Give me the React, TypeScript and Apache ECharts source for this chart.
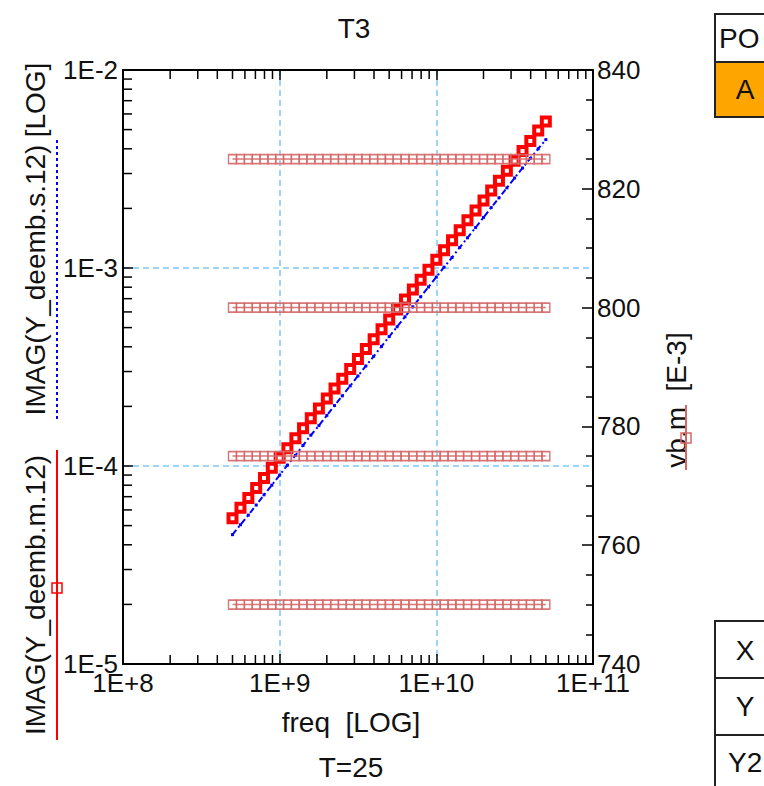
import React, { useEffect, useRef } from "react";
import * as echarts from "echarts";

const freq = [
  5.0e8, 5.62e8, 6.31e8, 7.08e8, 7.94e8, 8.91e8,
  1.0e9, 1.12e9, 1.26e9, 1.41e9, 1.58e9, 1.78e9, 2.0e9, 2.24e9, 2.51e9, 2.82e9,
  3.16e9, 3.55e9, 3.98e9, 4.47e9, 5.0e9, 5.62e9, 6.31e9, 7.08e9, 7.94e9, 8.91e9,
  1.0e10, 1.12e10, 1.26e10, 1.41e10, 1.58e10, 1.78e10, 2.0e10, 2.24e10, 2.51e10, 2.82e10,
  3.16e10, 3.55e10, 3.98e10, 4.47e10, 5.0e10,
];

const imagM12 = [
  5.45e-5, 6.15e-5, 6.9e-5, 7.75e-5, 8.7e-5, 9.8e-5,
  1.1e-4, 1.23e-4, 1.38e-4, 1.55e-4, 1.74e-4, 1.95e-4, 2.19e-4, 2.46e-4, 2.76e-4, 3.09e-4,
  3.47e-4, 3.9e-4, 4.37e-4, 4.91e-4, 5.5e-4, 6.17e-4, 6.93e-4, 7.78e-4, 8.73e-4, 9.8e-4,
  1.1e-3, 1.23e-3, 1.38e-3, 1.55e-3, 1.74e-3, 1.95e-3, 2.19e-3, 2.46e-3, 2.76e-3, 3.1e-3,
  3.48e-3, 3.9e-3, 4.38e-3, 4.95e-3, 5.5e-3,
];

const imagS12 = [
  4.5e-5, 5.05e-5, 5.65e-5, 6.35e-5, 7.15e-5, 8.0e-5,
  9.0e-5, 1.01e-4, 1.13e-4, 1.27e-4, 1.43e-4, 1.6e-4, 1.8e-4, 2.02e-4, 2.26e-4, 2.54e-4,
  2.85e-4, 3.2e-4, 3.58e-4, 4.02e-4, 4.5e-4, 5.05e-4, 5.67e-4, 6.37e-4, 7.15e-4, 8.02e-4,
  9.0e-4, 1.01e-3, 1.13e-3, 1.27e-3, 1.42e-3, 1.6e-3, 1.8e-3, 2.02e-3, 2.26e-3, 2.54e-3,
  2.85e-3, 3.2e-3, 3.58e-3, 4.0e-3, 4.45e-3,
];

// vb.m [E-3] levels
const vbLevels = [825, 800, 775, 750];

const xMinorTicks = [
  2e8, 3e8, 4e8, 5e8, 6e8, 7e8, 8e8, 9e8,
  2e9, 3e9, 4e9, 5e9, 6e9, 7e9, 8e9, 9e9,
  2e10, 3e10, 4e10, 5e10, 6e10, 7e10, 8e10, 9e10,
];
const yMinorTicks = [
  2e-5, 3e-5, 4e-5, 5e-5, 6e-5, 7e-5, 8e-5, 9e-5,
  2e-4, 3e-4, 4e-4, 5e-4, 6e-4, 7e-4, 8e-4, 9e-4,
  2e-3, 3e-3, 4e-3, 5e-3, 6e-3, 7e-3, 8e-3, 9e-3,
];

const FONT = '"Liberation Sans", Arial, sans-serif';
const FS = 26;
const GFS = 28;
const RED = "#ff0000";
const BLUE = "#0000ff";
const HRED = "#d46868";
const GRID = "#7cc8f4";
const TXT = "#111";

const expFmt = (v: number) => {
  const e = Math.round(Math.log10(v));
  return "1E" + (e >= 0 ? "+" : "") + e;
};

const txt = (text: string, x: number, y: number, opts: any = {}) => ({
  type: "text",
  x,
  y,
  rotation: opts.rotation || 0,
  silent: true,
  style: {
    text,
    fill: opts.fill || TXT,
    font: `${opts.size || GFS}px ${FONT}`,
    align: opts.align || "center",
    verticalAlign: "middle",
    textAlign: opts.align || "center",
    textVerticalAlign: "middle",
  },
});

export default function App() {
  const ref = useRef<HTMLDivElement>(null);
  useEffect(() => {
    const chart = echarts.init(ref.current!, null, { renderer: "svg" });

    const hSeries = vbLevels.map((lv) => ({
      type: "line",
      xAxisIndex: 0,
      yAxisIndex: 1,
      data: freq.map((f) => [f, lv]),
      symbol: "rect",
      symbolSize: [8, 9],
      showAllSymbol: true,
      itemStyle: { color: "rgba(0,0,0,0)", borderColor: HRED, borderWidth: 1.5, opacity: 0.9 },
      lineStyle: { color: HRED, width: 1.5, opacity: 0.9 },
      z: 5,
      silent: true,
    }));

    const option: any = {
      animation: false,
      backgroundColor: "#fff",
      grid: { left: 123, right: 171, top: 70, bottom: 122, show: false },
      xAxis: [
        {
          type: "log",
          logBase: 10,
          min: 1e8,
          max: 1e11,
          axisLine: { show: true, lineStyle: { color: "#000", width: 2 } },
          axisTick: { show: true, inside: true, length: 10, lineStyle: { color: "#000", width: 1.5 } },
          axisLabel: { formatter: expFmt, color: TXT, fontSize: FS, fontFamily: FONT, margin: 6 },
          splitLine: { show: true, lineStyle: { color: GRID, type: [6, 4], width: 1.5 } },
        },
        {
          type: "log",
          logBase: 10,
          min: 1e8,
          max: 1e11,
          position: "top",
          axisLine: { show: true, lineStyle: { color: "#000", width: 2 } },
          axisTick: { show: true, inside: true, length: 10, lineStyle: { color: "#000", width: 1.5 } },
          axisLabel: { show: false },
          splitLine: { show: false },
        },
      ],
      yAxis: [
        {
          type: "log",
          logBase: 10,
          min: 1e-5,
          max: 1e-2,
          axisLine: { show: true, lineStyle: { color: "#000", width: 2 } },
          axisTick: { show: true, inside: true, length: 10, lineStyle: { color: "#000", width: 1.5 } },
          axisLabel: {
            formatter: expFmt,
            color: TXT,
            fontSize: FS,
            fontFamily: FONT,
            margin: 5,
            padding: [0, 0, 6, 0],
          },
          splitLine: { show: true, lineStyle: { color: GRID, type: [6, 4], width: 1.5 } },
        },
        {
          type: "value",
          min: 740,
          max: 840,
          interval: 20,
          position: "right",
          axisLine: { show: true, lineStyle: { color: "#000", width: 2 } },
          axisTick: { show: true, inside: true, length: 11, lineStyle: { color: "#000", width: 1.5 } },
          minorTick: { show: true, splitNumber: 4, length: 7, lineStyle: { color: "#000", width: 1.5 } },
          axisLabel: {
            color: TXT,
            fontSize: FS,
            fontFamily: FONT,
            margin: 4,
            padding: [0, 0, 6, 0],
          },
          splitLine: { show: false },
        },
      ],
      series: [
        {
          type: "custom",
          xAxisIndex: 0,
          yAxisIndex: 0,
          silent: true,
          clip: false,
          z: 10,
          data: xMinorTicks.map((v) => [v, 1e-4]),
          renderItem: (params: any, api: any) => {
            const v = api.value(0);
            const b = api.coord([v, 1e-5]);
            const t = api.coord([v, 1e-2]);
            const st = { stroke: "#000", lineWidth: 1.5 };
            return {
              type: "group",
              children: [
                { type: "line", shape: { x1: b[0], y1: b[1], x2: b[0], y2: b[1] - 9 }, style: st },
                { type: "line", shape: { x1: t[0], y1: t[1], x2: t[0], y2: t[1] + 9 }, style: st },
              ],
            };
          },
        },
        {
          type: "custom",
          xAxisIndex: 0,
          yAxisIndex: 0,
          silent: true,
          clip: false,
          z: 10,
          data: yMinorTicks.map((v) => [1e9, v]),
          renderItem: (params: any, api: any) => {
            const v = api.value(1);
            const l = api.coord([1e8, v]);
            return {
              type: "line",
              shape: { x1: l[0], y1: l[1], x2: l[0] + 9, y2: l[1] },
              style: { stroke: "#000", lineWidth: 1.5 },
            };
          },
        },
        {
          name: "IMAG(Y_deemb.s.12)",
          type: "line",
          xAxisIndex: 0,
          yAxisIndex: 0,
          data: freq.map((f, i) => [f, imagS12[i]]),
          symbol: "rect",
          symbolSize: 3,
          showAllSymbol: true,
          itemStyle: { color: BLUE },
          lineStyle: { color: BLUE, width: 2, type: [6, 3, 2, 3] },
          z: 3,
        },
        {
          name: "IMAG(Y_deemb.m.12)",
          type: "line",
          xAxisIndex: 0,
          yAxisIndex: 0,
          data: freq.map((f, i) => [f, imagM12[i]]),
          symbol: "rect",
          symbolSize: 8,
          showAllSymbol: true,
          itemStyle: { color: "#fff", borderColor: RED, borderWidth: 4 },
          lineStyle: { color: RED, width: 2 },
          z: 4,
        },
        ...hSeries,
      ],
      graphic: [
        txt("T3", 354, 28),
        txt("freq  [LOG]", 351, 722),
        txt("T=25", 351, 767),
        // left axis names (rotated)
        txt("IMAG(Y_deemb.m.12)", 35, 595, { rotation: Math.PI / 2 }),
        txt("IMAG(Y_deemb.s.12)", 35, 280, { rotation: Math.PI / 2 }),
        txt("[LOG]", 35, 100, { rotation: Math.PI / 2 }),
        {
          type: "line",
          silent: true,
          shape: { x1: 57, y1: 450, x2: 57, y2: 740 },
          style: { stroke: RED, lineWidth: 2 },
        },
        {
          type: "rect",
          silent: true,
          shape: { x: 52, y: 583, width: 10, height: 10 },
          style: { fill: "none", stroke: RED, lineWidth: 1.5 },
        },
        {
          type: "line",
          silent: true,
          shape: { x1: 57, y1: 140, x2: 57, y2: 420 },
          style: { stroke: BLUE, lineWidth: 2, lineDash: [3, 3] },
        },
        // right axis name
        txt("vb.m  [E-3]", 676, 400, { rotation: Math.PI / 2 }),
        {
          type: "line",
          silent: true,
          shape: { x1: 686, y1: 405, x2: 686, y2: 470 },
          style: { stroke: HRED, lineWidth: 2 },
        },
        {
          type: "rect",
          silent: true,
          shape: { x: 681, y: 433, width: 10, height: 10 },
          style: { fill: "none", stroke: HRED, lineWidth: 1.5 },
        },
        // right-side table fragments
        {
          type: "rect",
          silent: true,
          shape: { x: 715, y: 14, width: 60, height: 48 },
          style: { fill: "#fff", stroke: "#222", lineWidth: 2 },
        },
        {
          type: "rect",
          silent: true,
          shape: { x: 715, y: 62, width: 60, height: 55 },
          style: { fill: "#ffa500", stroke: "#222", lineWidth: 2 },
        },
        txt("PO", 719, 38, { align: "left" }),
        txt("A", 745, 89),
        {
          type: "rect",
          silent: true,
          shape: { x: 715, y: 621, width: 60, height: 57 },
          style: { fill: "#fff", stroke: "#222", lineWidth: 2 },
        },
        {
          type: "rect",
          silent: true,
          shape: { x: 715, y: 678, width: 60, height: 57 },
          style: { fill: "#fff", stroke: "#222", lineWidth: 2 },
        },
        {
          type: "rect",
          silent: true,
          shape: { x: 715, y: 735, width: 60, height: 60 },
          style: { fill: "#fff", stroke: "#222", lineWidth: 2 },
        },
        txt("X", 745, 650),
        txt("Y", 745, 706),
        txt("Y2", 728, 762, { align: "left" }),
      ],
    };

    chart.setOption(option);
    return () => chart.dispose();
  }, []);

  return (
    <div
      ref={ref}
      style={{ position: "fixed", left: 0, top: 0, width: 764, height: 786 }}
    />
  );
}
